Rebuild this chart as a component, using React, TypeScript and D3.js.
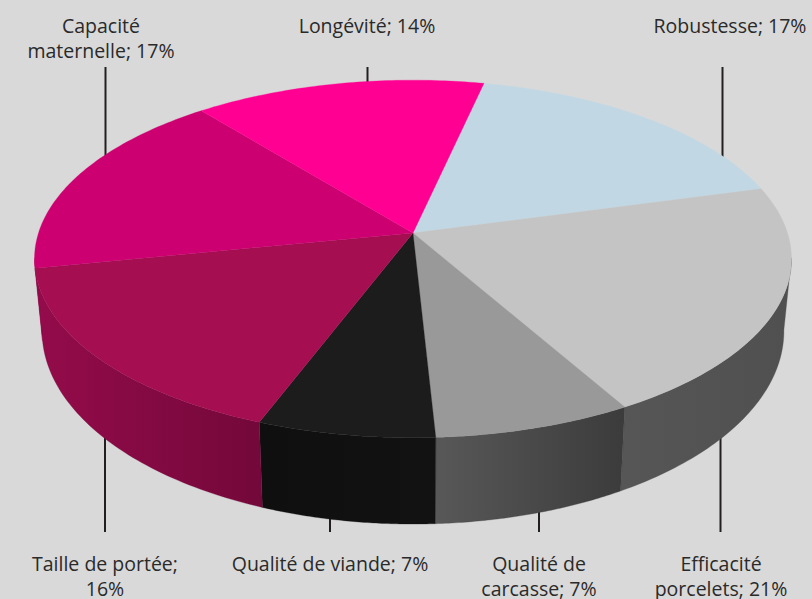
import React from "react";
import * as d3 from "d3";

const labels: string[][] = [
  ["Robustesse; 17%"],
  ["Efficacité", "porcelets; 21%"],
  ["Qualité de", "carcasse; 7%"],
  ["Qualité de viande; 7%"],
  ["Taille de portée;", "16%"],
  ["Capacité", "maternelle; 17%"],
  ["Longévité; 14%"],
];
const values = [17.3, 21.0, 7.4, 6.6, 16.1, 17.3, 14.3];
const topColors = ["#c1d8e4", "#c4c4c4", "#999999", "#1c1c1c", "#a50e50", "#cc0070", "#ff0092"];
const sideLeft = ["#545454", "#565656", "#585858", "#0f0f0f", "#930b4a", "#930b4a", "#545454"];
const sideRight = ["#545454", "#505050", "#3c3c3c", "#121212", "#73083a", "#930b4a", "#545454"];

const W = 812, H = 599;
const CX = 413, CY = 233, SX = 374.5, SY = 175, K = 0.145;
const LOW_X = 0.98, LOW_Y = 1.08, LOW_CY = 303;
const START = 12.5, FRONT_FROM = 98, FRONT_TO = 262;
const rad = (d: number) => (d * Math.PI) / 180;

function rim(a: number): [number, number] {
  const X = Math.sin(a), Y = Math.cos(a), w = 1 + K * Y;
  return [(SX * X) / w, (-SY * Y) / w];
}
const top = (a: number): [number, number] => {
  const [x, y] = rim(a);
  return [CX + x, CY + y];
};
const low = (a: number): [number, number] => {
  const [x, y] = rim(a);
  return [CX + LOW_X * x, LOW_CY + LOW_Y * y];
};

const pie = d3.pie<number>().sort(null).startAngle(rad(START)).endAngle(rad(START + 360));
const arcs = pie(values);
const path = d3.line();
const sweep = (a0: number, a1: number) =>
  d3.range(0, 61).map((i) => d3.interpolateNumber(a0, a1)(i / 60));

// Leader lines: [x, y from, y to], drawn behind the pie
const leaders: [number, number, number][] = [
  [722.5, 67, 170], [720.5, 420, 532], [539, 500, 532], [330, 500, 532],
  [105, 420, 532], [105.5, 67, 170], [367.5, 67, 100],
];
const labelPos: [number, number, number][] = [
  [730, 33, 0], [721, 571, 596], [539, 571, 596], [330, 571, 0],
  [105, 571, 596], [101, 33, 58], [367, 33, 0],
];

export default function App() {
  const sides = arcs.map((d, i) => {
    const a0 = Math.max(d.startAngle, rad(FRONT_FROM));
    const a1 = Math.min(d.endAngle, rad(FRONT_TO));
    if (a1 <= a0) return null;
    const pts = [...sweep(a0, a1).map(top), ...sweep(a0, a1).reverse().map(low)];
    return { i, d: path(pts)! + "Z", xr: low(a0)[0], xl: low(a1)[0] };
  });
  return (
    <svg width={W} height={H} style={{ position: "fixed", left: 0, top: 0 }}>
      <defs>
        {sides.map((s) =>
          s ? (
            <linearGradient key={s.i} id={`g${s.i}`} gradientUnits="userSpaceOnUse" x1={s.xl} x2={s.xr} y1={0} y2={0}>
              <stop offset="0" stopColor={sideLeft[s.i]} />
              <stop offset="1" stopColor={sideRight[s.i]} />
            </linearGradient>
          ) : null
        )}
      </defs>
      <rect width={W} height={H} fill="#d9d9d9" />
      {leaders.map(([x, y0, y1], i) => (
        <line key={i} x1={x} x2={x} y1={y0} y2={y1} stroke="#231f20" strokeWidth={2} />
      ))}
      {sides.map((s) =>
        s ? <path key={s.i} d={s.d} fill={`url(#g${s.i})`} stroke={sideRight[s.i]} strokeWidth={0.3} /> : null
      )}
      {arcs.map((d, i) => {
        const pts: [number, number][] = [[CX, CY], ...sweep(d.startAngle, d.endAngle).map(top)];
        return <path key={i} d={path(pts)! + "Z"} fill={topColors[i]} stroke={topColors[i]} strokeWidth={0.3} />;
      })}
      {labels.map((lines, i) =>
        lines.map((t, j) => (
          <text
            key={`${i}-${j}`}
            x={labelPos[i][0]}
            y={labelPos[i][1 + j]}
            textAnchor="middle"
            fontFamily="'Open Sans', 'Noto Sans', sans-serif"
            fontSize={19.5}
            fill="#2a2a2a"
          >
            {t}
          </text>
        ))
      )}
    </svg>
  );
}
